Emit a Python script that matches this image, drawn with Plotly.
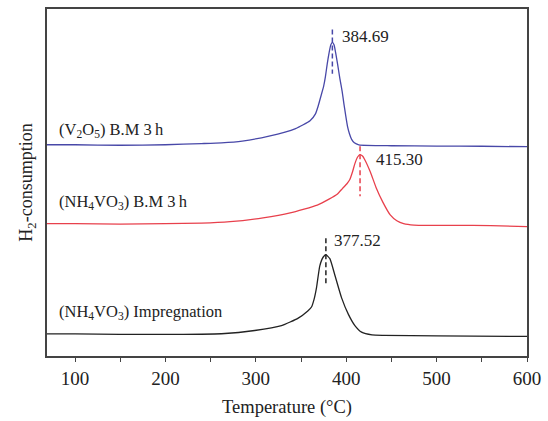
import plotly.graph_objects as go

# Temperature (°C) and H2-consumption signal (arbitrary units)
t_v2o5 = [69, 100, 150, 200, 240, 262, 285, 314.6, 344, 360, 366, 369, 372, 375, 377, 379,
          381, 383, 384.7, 386.5, 388.4, 390.6, 393, 395.5, 397.5, 399.5, 401.5, 403.5,
          406, 409, 414, 450, 500, 550, 600]
s_v2o5 = [217.5, 217.5, 217, 217.5, 218.7, 219.5, 221.3, 226.3, 234, 242, 249, 257, 267,
          277, 287, 300, 311, 319.5, 322, 319.5, 311, 299, 285, 272, 259, 247, 236, 229,
          223, 219.5, 217.5, 216.5, 216.2, 216, 215.5]

t_nh4_bm = [69, 100, 150, 200, 240, 271.5, 308, 338, 368, 381, 390, 396, 401, 404, 407,
            409.5, 412.6, 415.3, 418, 420.1, 426.6, 433, 440.5, 448.7, 456, 463.5, 475,
            520, 560, 600]
s_nh4_bm = [137, 137, 136.5, 137, 137.5, 139, 143, 148, 156, 162, 167, 173, 178, 182, 190,
            198, 205, 207.5, 206, 203, 190, 174, 159, 146, 140, 137, 135.5, 135.3, 135, 134]

t_imp = [69, 100, 150, 200, 240, 262, 298.8, 328.4, 346.9, 357.5, 361.6, 364.5, 367.2,
         370.8, 374.6, 377.5, 381.9, 387.4, 394.9, 402.3, 409.6, 417, 428.5, 441.5, 500, 600]
s_imp = [24.5, 24.5, 24, 24, 24.2, 24.7, 28, 33, 40.7, 48, 52, 60, 72, 94, 103,
         105.3, 101.3, 84.7, 61.3, 44.7, 33, 26.3, 23.5, 23, 22.5, 22]

series_names = ["(V<sub>2</sub>O<sub>5</sub>) B.M 3\u2009h",
                "(NH<sub>4</sub>VO<sub>3</sub>) B.M 3\u2009h",
                "(NH<sub>4</sub>VO<sub>3</sub>) Impregnation"]
series_colors = ["#4848a8", "#e8404c", "#222222"]
peak_temps = [384.69, 415.30, 377.52]
peak_labels = ["384.69", "415.30", "377.52"]
peak_label_x = [393, 430.5, 384.5]
peak_label_y = [328, 202, 120]
dash_ranges = [(335, 290), (216, 165), (122, 75)]
name_y = [233, 159, 47]

x_ticks = [100, 200, 300, 400, 500, 600]

fig = go.Figure()
curves = [(t_v2o5, s_v2o5), (t_nh4_bm, s_nh4_bm), (t_imp, s_imp)]
for (t, s), c in zip(curves, series_colors):
    fig.add_trace(go.Scatter(x=t, y=s, mode="lines",
                             line=dict(color=c, width=1.3, shape="spline", smoothing=0.5),
                             showlegend=False, hoverinfo="skip"))

for pk, (y0, y1), c in zip(peak_temps, dash_ranges, series_colors):
    fig.add_trace(go.Scatter(x=[pk, pk], y=[y0, y1], mode="lines",
                             line=dict(color=c, width=1.5, dash="5px,3px"),
                             showlegend=False, hoverinfo="skip"))

font_family = "Liberation Serif"
for name, yv in zip(series_names, name_y):
    fig.add_annotation(x=80, y=yv, text=name, showarrow=False, xanchor="left",
                       yanchor="middle", font=dict(family=font_family, size=16.5, color="#222"))
for lx, lab, yv in zip(peak_label_x, peak_labels, peak_label_y):
    fig.add_annotation(x=lx, y=yv, text=lab, showarrow=False, xanchor="left",
                       yanchor="middle", font=dict(family=font_family, size=17, color="#222"))

fig.update_layout(
    width=548, height=421,
    margin=dict(l=47, r=21, t=7, b=60),
    paper_bgcolor="white", plot_bgcolor="white",
    font=dict(family=font_family, size=18, color="#222"),
    xaxis=dict(range=[69, 600], tickvals=x_ticks, ticks="outside", ticklen=4,
               tickwidth=1.2, tickcolor="#444", showgrid=False, zeroline=False,
               showline=True, linecolor="#444", linewidth=1.5, mirror=True,
               minor=dict(dtick=50, tick0=0, ticks="outside", ticklen=4, tickcolor="#444"),
               title=dict(text="Temperature (°C)", standoff=13,
                          font=dict(family=font_family, size=18.5)),
               tickfont=dict(family=font_family, size=19)),
    yaxis=dict(range=[2, 356], showticklabels=False, ticks="", showgrid=False,
               zeroline=False, showline=True, linecolor="#444", linewidth=1.5, mirror=True,
               title=dict(text="H<sub>2</sub>-consumption", standoff=8,
                          font=dict(family=font_family, size=18))),
)

fig.write_html("out.html", config={"displayModeBar": False},
               post_script="document.body.style.margin='0px';")
